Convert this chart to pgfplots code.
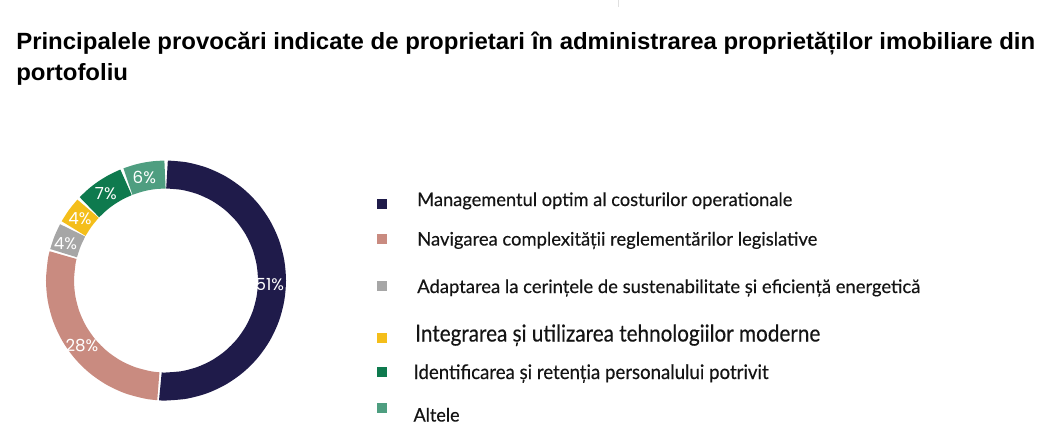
\documentclass[border=0pt]{standalone}
\usepackage{fontspec}
\usepackage{graphicx}
\usepackage{pgfplots}
\pgfplotsset{compat=1.18}
\usepgfplotslibrary{polar}
\setmainfont{Lato}[FakeBold=0.35]
\newfontfamily\titlefont{Liberation Sans}
\newfontfamily\labelfont{Poppins}

\definecolor{c1}{HTML}{1F1B4A}
\definecolor{c2}{HTML}{C98B80}
\definecolor{c3}{HTML}{A6A6A6}
\definecolor{c4}{HTML}{F4BE1A}
\definecolor{c5}{HTML}{0E7A4E}
\definecolor{c6}{HTML}{4E9E80}

\begin{document}
\begin{tikzpicture}[x=0.75pt,y=-0.75pt]
\path[use as bounding box] (0,0) rectangle (1047,437);
\draw[black!12, line width=0.75pt] (618,0) -- (618,7);

% title
\node[anchor=base west, inner sep=0pt] at (16,49.5) {\resizebox{764.25pt}{\height}{\titlefont\bfseries\fontsize{17.6pt}{23pt}\selectfont
  \begin{tabular}[t]{@{}l@{}}Principalele provocări indicate de proprietari în administrarea proprietăților imobiliare din\\portofoliu\end{tabular}}};

% donut: shares 51, 28, 4, 4, 7, 6 (%), clockwise from the top
\begin{polaraxis}[
    at={(124.5pt,-210.375pt)}, anchor=center,
    width=180pt, height=180pt, scale only axis,
    xmin=0, xmax=360, ymin=0, ymax=120,
    hide axis, clip=false,
  ]
  \addplot[c1, line width=21pt, smooth, no marks] coordinates {
    (89.45,106) (80,106) (70,106) (60,106) (50,106) (40,106) (30,106)
    (20,106) (10,106) (0,106) (-10,106) (-20,106) (-30,106) (-40,106)
    (-50,106) (-60,106) (-70,106) (-80,106) (-90,106) (-93.05,106)};
  \addplot[c2, line width=21pt, smooth, no marks] coordinates {
    (265.85,106) (260,106) (250,106) (240,106) (230,106) (220,106)
    (210,106) (200,106) (190,106) (180,106) (170,106) (166.15,106)};
  \addplot[c3, line width=21pt, smooth, no marks] coordinates {
    (165.05,106) (158.4,106) (151.75,106)};
  \addplot[c4, line width=21pt, smooth, no marks] coordinates {
    (150.65,106) (144,106) (137.35,106)};
  \addplot[c5, line width=21pt, smooth, no marks] coordinates {
    (136.25,106) (130,106) (124.2,106) (118,106) (112.15,106)};
  \addplot[c6, line width=21pt, smooth, no marks] coordinates {
    (111.05,106) (105,106) (100.8,106) (96,106) (90.55,106)};

  \begin{scope}[every node/.style={text=white, inner sep=0pt, font=\labelfont\fontsize{12.5pt}{14pt}\selectfont}]
    \node at (axis cs:-2.5,104) {51\%};
    \node at (axis cs:217.5,106) {28\%};
    \node at (axis cs:160,107) {4\%};
    \node at (axis cs:144.2,106) {4\%};
    \node at (axis cs:124.6,106) {7\%};
    \node at (axis cs:101.9,105) {6\%};
  \end{scope}
\end{polaraxis}

% legend
\node[fill=c1, minimum size=7.5pt, inner sep=0pt] at (382,204) {};
\node[fill=c2, minimum size=7.5pt, inner sep=0pt] at (382,239) {};
\node[fill=c3, minimum size=7.5pt, inner sep=0pt] at (382,286.3) {};
\node[fill=c4, minimum size=7.5pt, inner sep=0pt] at (382,337.5) {};
\node[fill=c5, minimum size=7.5pt, inner sep=0pt] at (382,371.7) {};
\node[fill=c6, minimum size=7.5pt, inner sep=0pt] at (382,407.5) {};

\begin{scope}[every node/.style={anchor=base west, inner sep=0pt, text=black!92}]
\node at (417,206) {\resizebox{281.25pt}{\height}{\fontsize{13.9pt}{16pt}\selectfont Managementul optim al costurilor operationale}};
\node at (417,245.5) {\resizebox{300pt}{\height}{\fontsize{13.9pt}{16pt}\selectfont Navigarea complexității reglementărilor legislative}};
\node at (417,293) {\resizebox{377.25pt}{\height}{\fontsize{13.9pt}{16pt}\selectfont Adaptarea la cerințele de sustenabilitate și eficiență energetică}};
\node at (415,341.5) {\resizebox{303.75pt}{\height}{\fontsize{17.5pt}{20pt}\selectfont Integrarea și utilizarea tehnologiilor moderne}};
\node at (413.3,379) {\resizebox{266.25pt}{\height}{\fontsize{15pt}{18pt}\selectfont Identificarea și retenția personalului potrivit}};
\node at (413.3,421.5) {\resizebox{34.5pt}{\height}{\fontsize{13.9pt}{16pt}\selectfont Altele}};
\end{scope}
\end{tikzpicture}
\end{document}
